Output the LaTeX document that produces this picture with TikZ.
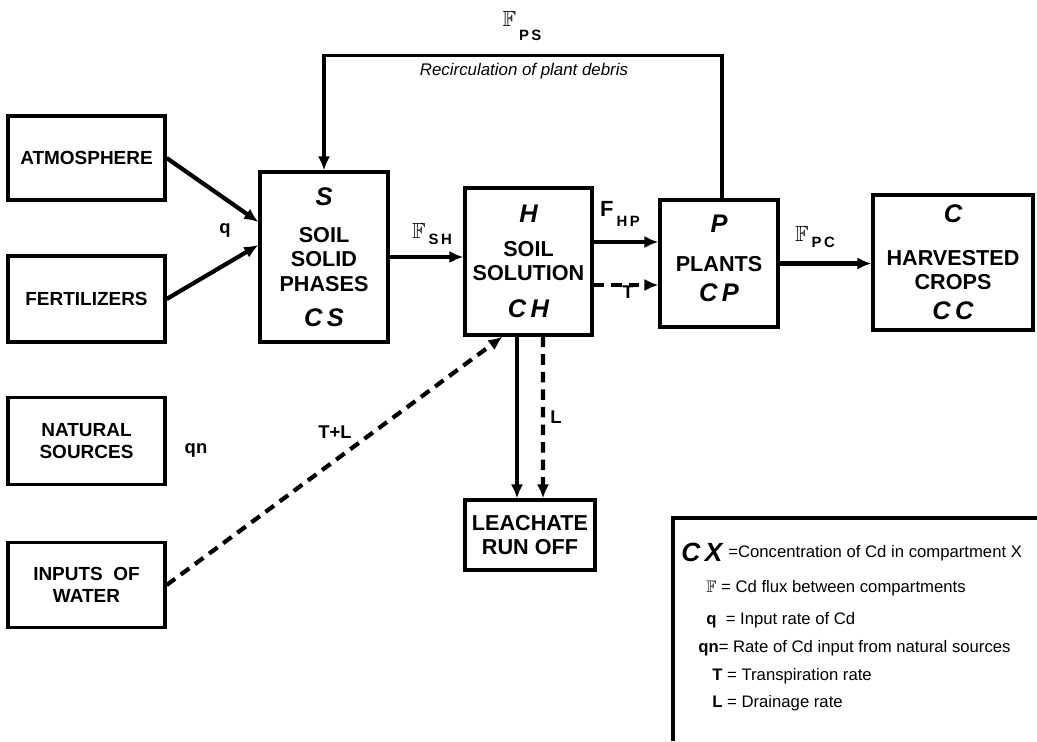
\documentclass[tikz,border=0pt]{standalone}
\usepackage{amssymb}
\usepackage{fontspec}
\setmainfont{Liberation Sans}
\usetikzlibrary{arrows.meta,calc}

\newcommand\cmp[1]{{\fontsize{14.5}{14}\selectfont\bfseries\itshape #1}}
\newcommand\flux[2][-0.6ex]{{\fontsize{12.5}{12}\selectfont$\mathbb{F}$}\,\raisebox{#1}{\fontsize{8.5}{9}\selectfont #2}}

\begin{document}
\begin{tikzpicture}[x=0.02cm, y=-0.02cm,
  box/.style={draw, line width=1.9pt, inner sep=0pt, align=center},
  src/.style={box, minimum width=3.14cm, font=\fontsize{10.8}{12.5}\selectfont\bfseries},
  cpt/.style={box, font=\fontsize{12.3}{14}\selectfont\bfseries},
  flow/.style={line width=2.4pt, -{Latex[length=8pt,width=7pt]}},
  wflow/.style={flow, dash pattern=on 6pt off 4pt},
  lbl/.style={font=\fontsize{10.5}{12}\selectfont\bfseries, inner sep=0pt},
  key/.style={anchor=west, inner sep=0pt, font=\fontsize{9.5}{11}\selectfont}]
  \useasboundingbox (0,0) rectangle (1037,741);

  % sources
  \node[src, minimum height=1.68cm] (atm)   at (86.5,158) {ATMOSPHERE};
  \node[src, minimum height=1.72cm] (fert)  at (86.5,299) {FERTILIZERS};
  \node[src, minimum height=1.74cm] (nat)   at (86.5,441) {NATURAL\\SOURCES};
  \node[src, minimum height=1.70cm] (water) at (86.5,585) {INPUTS\ \ OF\\WATER};

  % compartments
  \node[cpt, minimum width=2.56cm, minimum height=3.4cm]  (solid)  at (324,257)
    {\cmp{S}\\[7pt] SOIL\\SOLID\\PHASES\\[6pt]\cmp{C\,S}};
  \node[cpt, minimum width=2.54cm, minimum height=2.94cm] (soln)   at (528.5,261.5)
    {\cmp{H}\\[5pt] SOIL\\SOLUTION\\[7pt]\cmp{C\,H}};
  \node[cpt, minimum width=2.36cm, minimum height=2.54cm] (plants) at (719,263.5)
    {\cmp{P}\\[8pt] PLANTS\\[3pt]\cmp{C\,P}\rule[-6pt]{0pt}{6pt}};
  \node[cpt, minimum width=3.2cm, minimum height=2.7cm]   (crops)  at (953,262.5)
    {\cmp{C}\\[10pt] HARVESTED\\CROPS\\[3pt]\cmp{C\,C}};
  \node[cpt, minimum width=2.6cm, minimum height=1.4cm]   (leach)  at (530,535)
    {LEACHATE\\RUN OFF};

  % fluxes
  \draw[flow] (atm.east) -- ($(solid.west)+(0,-35)$);
  \draw[flow] (fert.east) -- ($(solid.west)+(0,-12)$);
  \draw[flow] (solid.east) -- (solid.east -| soln.west);
  \draw[flow] ($(soln.east)+(0,-19.5)$) -- ($(plants.west)+(0,-21.5)$);
  \draw[wflow] ($(soln.east)+(0,23.5)$) -- ($(plants.west)+(0,21.5)$);
  \draw[flow] (plants.east) -- (plants.east -| crops.west);
  \draw[flow, line width=1.8pt] ($(plants.north)+(3,0)$) -- ++(0,-143) -| (solid.north);
  \draw[flow] ($(soln.south)+(-11.5,0)$) -- ($(leach.north)+(-13,0)$);
  \draw[wflow] ($(soln.south)+(14.5,0)$) -- ($(leach.north)+(13,0)$);
  \draw[wflow] (water.east) -- ($(soln.south)+(-26,0)$);

  % labels
  \node[lbl] (q)   at (225,230) {q};
  \node[lbl] (qn)  at (196,450) {qn};
  \node[lbl] (tl)  at (335,432) {T+L};
  \node[lbl] (l)   at (556,417) {L};
  \node[lbl] (t)   at (628,292) {T};
  \node[lbl] (fsh) at (432,234) {\flux{S\,H}};
  \node[lbl] (fhp) at (620,214) {{\fontsize{12.5}{12}\selectfont F}\,\raisebox{-1.1ex}{\fontsize{8.5}{9}\selectfont H\,P}};
  \node[lbl] (fpc) at (815,237) {\flux{P\,C}};
  \node[lbl] (fps) at (522,26)  {\flux[-1.4ex]{P\,S}};
  \node[font=\fontsize{9.6}{11}\selectfont\itshape] (recirc) at (524,71)
    {Recirculation of plant debris};

  % legend
  \draw[line width=1.8pt] (1037,518) -- (673,518) -- (673,741);
  \node[key, font=\fontsize{15}{15}\selectfont\bfseries\itshape] (cx) at (681,552) {C\,X};
  \node[key] (kcx) at (728,553) {=Concentration of Cd in compartment X};
  \node[key] (kf)  at (706,588) {$\mathbb{F}$ = Cd flux between compartments};
  \node[key] (kq)  at (706,620) {\textbf{q}\ \ = Input rate of Cd};
  \node[key] (kqn) at (698,648) {\textbf{qn}= Rate of Cd input from natural sources};
  \node[key] (kt)  at (712,676) {\textbf{T} = Transpiration rate};
  \node[key] (kl)  at (712,703) {\textbf{L} = Drainage rate};
\end{tikzpicture}
\end{document}
